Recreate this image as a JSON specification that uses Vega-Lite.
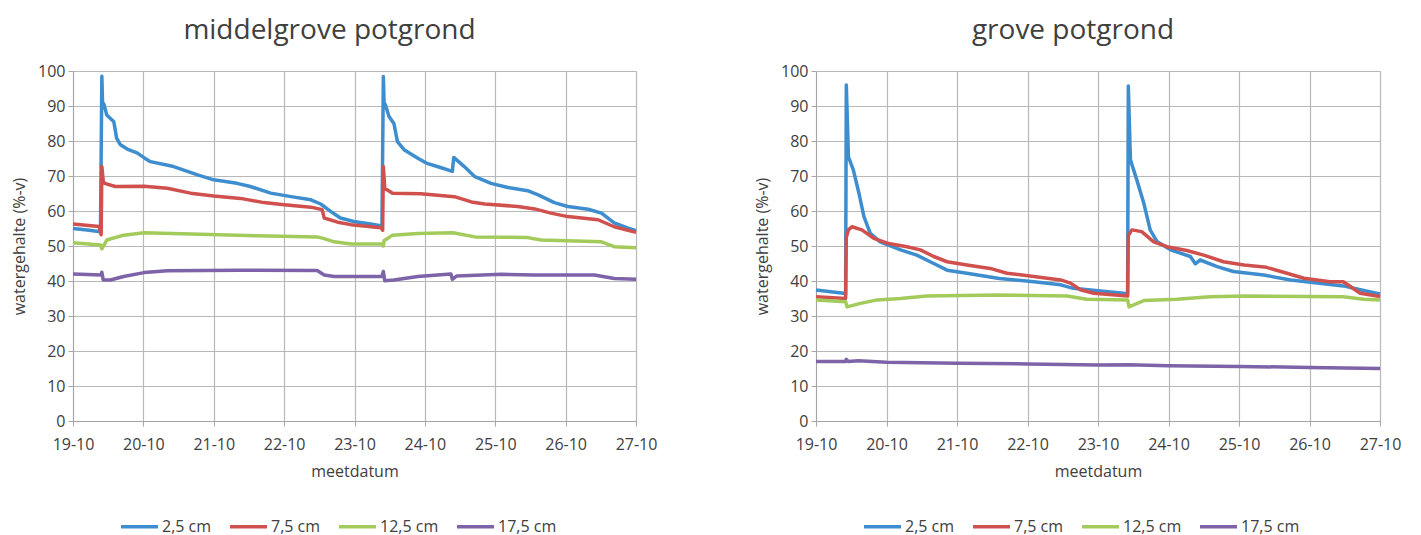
{
  "$schema": "https://vega.github.io/schema/vega-lite/v6.json",
  "padding": {"left": 11, "top": 17, "right": 0, "bottom": 45},
  "background": "white",
  "config": {
    "font": "Open Sans",
    "view": {"stroke": null},
    "axis": {
      "labelFontSize": 16, "labelColor": "#404040", "labelFont": "Open Sans",
      "titleFontSize": 16, "titleFontWeight": "normal", "titleColor": "#404040", "titleFont": "Open Sans",
      "gridColor": "#b8b8b8", "gridWidth": 1.2, "domainColor": "#a6a6a6", "tickColor": "#a6a6a6", "tickSize": 5
    },
    "legend": {
      "labelFontSize": 16, "labelColor": "#404040", "labelFont": "Open Sans"
    }
  },
  "data": {"values": [
    {"b":"m","s":"2,5 cm","t":0,"v":55.0},{"b":"m","s":"2,5 cm","t":0.2,"v":54.6},{"b":"m","s":"2,5 cm","t":0.39,"v":54.1},{"b":"m","s":"2,5 cm","t":0.41,"v":98.5},{"b":"m","s":"2,5 cm","t":0.42,"v":91},{"b":"m","s":"2,5 cm","t":0.44,"v":90.5},{"b":"m","s":"2,5 cm","t":0.48,"v":87.4},{"b":"m","s":"2,5 cm","t":0.58,"v":85.5},{"b":"m","s":"2,5 cm","t":0.62,"v":80.8},{"b":"m","s":"2,5 cm","t":0.67,"v":79},{"b":"m","s":"2,5 cm","t":0.77,"v":77.7},{"b":"m","s":"2,5 cm","t":0.91,"v":76.6},{"b":"m","s":"2,5 cm","t":1.02,"v":75.1},{"b":"m","s":"2,5 cm","t":1.1,"v":74.1},{"b":"m","s":"2,5 cm","t":1.43,"v":72.7},{"b":"m","s":"2,5 cm","t":1.77,"v":70.3},{"b":"m","s":"2,5 cm","t":2.0,"v":68.9},{"b":"m","s":"2,5 cm","t":2.33,"v":67.9},{"b":"m","s":"2,5 cm","t":2.52,"v":67.0},{"b":"m","s":"2,5 cm","t":2.81,"v":65.1},{"b":"m","s":"2,5 cm","t":3.1,"v":64.1},{"b":"m","s":"2,5 cm","t":3.38,"v":63.2},{"b":"m","s":"2,5 cm","t":3.52,"v":62.0},{"b":"m","s":"2,5 cm","t":3.66,"v":59.9},{"b":"m","s":"2,5 cm","t":3.8,"v":58.0},{"b":"m","s":"2,5 cm","t":3.99,"v":57.0},{"b":"m","s":"2,5 cm","t":4.23,"v":56.3},{"b":"m","s":"2,5 cm","t":4.39,"v":55.7},{"b":"m","s":"2,5 cm","t":4.41,"v":98.4},{"b":"m","s":"2,5 cm","t":4.42,"v":91},{"b":"m","s":"2,5 cm","t":4.44,"v":90.3},{"b":"m","s":"2,5 cm","t":4.49,"v":87.0},{"b":"m","s":"2,5 cm","t":4.56,"v":85.0},{"b":"m","s":"2,5 cm","t":4.61,"v":79.8},{"b":"m","s":"2,5 cm","t":4.71,"v":77.4},{"b":"m","s":"2,5 cm","t":4.9,"v":75.1},{"b":"m","s":"2,5 cm","t":5.02,"v":73.7},{"b":"m","s":"2,5 cm","t":5.21,"v":72.5},{"b":"m","s":"2,5 cm","t":5.39,"v":71.3},{"b":"m","s":"2,5 cm","t":5.41,"v":75.3},{"b":"m","s":"2,5 cm","t":5.56,"v":72.7},{"b":"m","s":"2,5 cm","t":5.71,"v":69.8},{"b":"m","s":"2,5 cm","t":5.94,"v":67.9},{"b":"m","s":"2,5 cm","t":6.18,"v":66.7},{"b":"m","s":"2,5 cm","t":6.46,"v":65.8},{"b":"m","s":"2,5 cm","t":6.61,"v":64.6},{"b":"m","s":"2,5 cm","t":6.84,"v":62.4},{"b":"m","s":"2,5 cm","t":7.03,"v":61.3},{"b":"m","s":"2,5 cm","t":7.32,"v":60.5},{"b":"m","s":"2,5 cm","t":7.51,"v":59.4},{"b":"m","s":"2,5 cm","t":7.69,"v":56.6},{"b":"m","s":"2,5 cm","t":7.88,"v":55.2},{"b":"m","s":"2,5 cm","t":8.0,"v":54.4},
    {"b":"m","s":"7,5 cm","t":0,"v":56.3},{"b":"m","s":"7,5 cm","t":0.37,"v":55.6},{"b":"m","s":"7,5 cm","t":0.40,"v":53.2},{"b":"m","s":"7,5 cm","t":0.41,"v":72.7},{"b":"m","s":"7,5 cm","t":0.43,"v":68.5},{"b":"m","s":"7,5 cm","t":0.45,"v":67.9},{"b":"m","s":"7,5 cm","t":0.6,"v":67.0},{"b":"m","s":"7,5 cm","t":1.01,"v":67.1},{"b":"m","s":"7,5 cm","t":1.34,"v":66.5},{"b":"m","s":"7,5 cm","t":1.67,"v":65.1},{"b":"m","s":"7,5 cm","t":2.0,"v":64.3},{"b":"m","s":"7,5 cm","t":2.38,"v":63.6},{"b":"m","s":"7,5 cm","t":2.71,"v":62.4},{"b":"m","s":"7,5 cm","t":3.0,"v":61.8},{"b":"m","s":"7,5 cm","t":3.38,"v":61.1},{"b":"m","s":"7,5 cm","t":3.54,"v":60.4},{"b":"m","s":"7,5 cm","t":3.57,"v":58.0},{"b":"m","s":"7,5 cm","t":3.76,"v":56.8},{"b":"m","s":"7,5 cm","t":3.95,"v":56.1},{"b":"m","s":"7,5 cm","t":4.38,"v":55.2},{"b":"m","s":"7,5 cm","t":4.40,"v":54.5},{"b":"m","s":"7,5 cm","t":4.41,"v":72.7},{"b":"m","s":"7,5 cm","t":4.43,"v":66.5},{"b":"m","s":"7,5 cm","t":4.54,"v":65.1},{"b":"m","s":"7,5 cm","t":4.94,"v":64.9},{"b":"m","s":"7,5 cm","t":5.42,"v":64.1},{"b":"m","s":"7,5 cm","t":5.66,"v":62.6},{"b":"m","s":"7,5 cm","t":5.85,"v":62.0},{"b":"m","s":"7,5 cm","t":6.32,"v":61.3},{"b":"m","s":"7,5 cm","t":6.56,"v":60.6},{"b":"m","s":"7,5 cm","t":6.79,"v":59.4},{"b":"m","s":"7,5 cm","t":7.03,"v":58.4},{"b":"m","s":"7,5 cm","t":7.46,"v":57.5},{"b":"m","s":"7,5 cm","t":7.69,"v":55.5},{"b":"m","s":"7,5 cm","t":8.0,"v":53.9},
    {"b":"m","s":"12,5 cm","t":0,"v":50.9},{"b":"m","s":"12,5 cm","t":0.39,"v":50.3},{"b":"m","s":"12,5 cm","t":0.41,"v":49.2},{"b":"m","s":"12,5 cm","t":0.48,"v":51.7},{"b":"m","s":"12,5 cm","t":0.72,"v":53.1},{"b":"m","s":"12,5 cm","t":1.01,"v":53.8},{"b":"m","s":"12,5 cm","t":1.67,"v":53.4},{"b":"m","s":"12,5 cm","t":2.62,"v":52.9},{"b":"m","s":"12,5 cm","t":3.47,"v":52.6},{"b":"m","s":"12,5 cm","t":3.57,"v":52.1},{"b":"m","s":"12,5 cm","t":3.71,"v":51.2},{"b":"m","s":"12,5 cm","t":3.95,"v":50.6},{"b":"m","s":"12,5 cm","t":4.39,"v":50.6},{"b":"m","s":"12,5 cm","t":4.41,"v":50.0},{"b":"m","s":"12,5 cm","t":4.42,"v":51.5},{"b":"m","s":"12,5 cm","t":4.54,"v":53.1},{"b":"m","s":"12,5 cm","t":4.9,"v":53.6},{"b":"m","s":"12,5 cm","t":5.4,"v":53.8},{"b":"m","s":"12,5 cm","t":5.71,"v":52.6},{"b":"m","s":"12,5 cm","t":6.46,"v":52.4},{"b":"m","s":"12,5 cm","t":6.65,"v":51.7},{"b":"m","s":"12,5 cm","t":7.51,"v":51.2},{"b":"m","s":"12,5 cm","t":7.69,"v":49.8},{"b":"m","s":"12,5 cm","t":8.0,"v":49.5},
    {"b":"m","s":"17,5 cm","t":0,"v":42.0},{"b":"m","s":"17,5 cm","t":0.40,"v":41.7},{"b":"m","s":"17,5 cm","t":0.41,"v":42.5},{"b":"m","s":"17,5 cm","t":0.43,"v":40.3},{"b":"m","s":"17,5 cm","t":0.53,"v":40.3},{"b":"m","s":"17,5 cm","t":0.72,"v":41.3},{"b":"m","s":"17,5 cm","t":1.01,"v":42.4},{"b":"m","s":"17,5 cm","t":1.34,"v":42.9},{"b":"m","s":"17,5 cm","t":2.38,"v":43.1},{"b":"m","s":"17,5 cm","t":3.47,"v":43.0},{"b":"m","s":"17,5 cm","t":3.57,"v":41.7},{"b":"m","s":"17,5 cm","t":3.71,"v":41.3},{"b":"m","s":"17,5 cm","t":4.39,"v":41.3},{"b":"m","s":"17,5 cm","t":4.41,"v":42.7},{"b":"m","s":"17,5 cm","t":4.43,"v":40.1},{"b":"m","s":"17,5 cm","t":4.56,"v":40.3},{"b":"m","s":"17,5 cm","t":4.9,"v":41.3},{"b":"m","s":"17,5 cm","t":5.37,"v":42.0},{"b":"m","s":"17,5 cm","t":5.39,"v":40.5},{"b":"m","s":"17,5 cm","t":5.45,"v":41.4},{"b":"m","s":"17,5 cm","t":6.09,"v":41.9},{"b":"m","s":"17,5 cm","t":6.56,"v":41.7},{"b":"m","s":"17,5 cm","t":7.41,"v":41.7},{"b":"m","s":"17,5 cm","t":7.69,"v":40.7},{"b":"m","s":"17,5 cm","t":8.0,"v":40.5},
    {"b":"g","s":"2,5 cm","t":0,"v":37.4},{"b":"g","s":"2,5 cm","t":0.39,"v":36.5},{"b":"g","s":"2,5 cm","t":0.42,"v":36.2},{"b":"g","s":"2,5 cm","t":0.43,"v":96.0},{"b":"g","s":"2,5 cm","t":0.46,"v":75.5},{"b":"g","s":"2,5 cm","t":0.53,"v":71.7},{"b":"g","s":"2,5 cm","t":0.61,"v":65.0},{"b":"g","s":"2,5 cm","t":0.68,"v":58.4},{"b":"g","s":"2,5 cm","t":0.77,"v":53.6},{"b":"g","s":"2,5 cm","t":0.91,"v":51.2},{"b":"g","s":"2,5 cm","t":1.2,"v":48.9},{"b":"g","s":"2,5 cm","t":1.43,"v":47.4},{"b":"g","s":"2,5 cm","t":1.67,"v":45.0},{"b":"g","s":"2,5 cm","t":1.86,"v":43.1},{"b":"g","s":"2,5 cm","t":2.14,"v":42.2},{"b":"g","s":"2,5 cm","t":2.6,"v":40.7},{"b":"g","s":"2,5 cm","t":3.09,"v":39.8},{"b":"g","s":"2,5 cm","t":3.47,"v":38.9},{"b":"g","s":"2,5 cm","t":3.65,"v":37.9},{"b":"g","s":"2,5 cm","t":4.0,"v":37.2},{"b":"g","s":"2,5 cm","t":4.36,"v":36.5},{"b":"g","s":"2,5 cm","t":4.42,"v":36.3},{"b":"g","s":"2,5 cm","t":4.43,"v":95.7},{"b":"g","s":"2,5 cm","t":4.46,"v":74.6},{"b":"g","s":"2,5 cm","t":4.55,"v":68.9},{"b":"g","s":"2,5 cm","t":4.65,"v":62.2},{"b":"g","s":"2,5 cm","t":4.74,"v":54.6},{"b":"g","s":"2,5 cm","t":4.84,"v":51.2},{"b":"g","s":"2,5 cm","t":5.03,"v":48.9},{"b":"g","s":"2,5 cm","t":5.31,"v":47.0},{"b":"g","s":"2,5 cm","t":5.38,"v":44.9},{"b":"g","s":"2,5 cm","t":5.45,"v":46.0},{"b":"g","s":"2,5 cm","t":5.69,"v":44.1},{"b":"g","s":"2,5 cm","t":5.92,"v":42.7},{"b":"g","s":"2,5 cm","t":6.35,"v":41.7},{"b":"g","s":"2,5 cm","t":6.73,"v":40.3},{"b":"g","s":"2,5 cm","t":7.11,"v":39.4},{"b":"g","s":"2,5 cm","t":7.48,"v":38.6},{"b":"g","s":"2,5 cm","t":7.72,"v":37.5},{"b":"g","s":"2,5 cm","t":8.0,"v":36.3},
    {"b":"g","s":"7,5 cm","t":0,"v":35.5},{"b":"g","s":"7,5 cm","t":0.42,"v":35.0},{"b":"g","s":"7,5 cm","t":0.43,"v":52.5},{"b":"g","s":"7,5 cm","t":0.46,"v":54.6},{"b":"g","s":"7,5 cm","t":0.51,"v":55.5},{"b":"g","s":"7,5 cm","t":0.65,"v":54.6},{"b":"g","s":"7,5 cm","t":0.82,"v":52.2},{"b":"g","s":"7,5 cm","t":1.01,"v":50.8},{"b":"g","s":"7,5 cm","t":1.29,"v":49.8},{"b":"g","s":"7,5 cm","t":1.48,"v":48.9},{"b":"g","s":"7,5 cm","t":1.67,"v":47.0},{"b":"g","s":"7,5 cm","t":1.86,"v":45.5},{"b":"g","s":"7,5 cm","t":2.14,"v":44.6},{"b":"g","s":"7,5 cm","t":2.47,"v":43.6},{"b":"g","s":"7,5 cm","t":2.71,"v":42.2},{"b":"g","s":"7,5 cm","t":3.09,"v":41.3},{"b":"g","s":"7,5 cm","t":3.47,"v":40.3},{"b":"g","s":"7,5 cm","t":3.61,"v":39.4},{"b":"g","s":"7,5 cm","t":3.75,"v":37.5},{"b":"g","s":"7,5 cm","t":3.94,"v":36.5},{"b":"g","s":"7,5 cm","t":4.42,"v":35.7},{"b":"g","s":"7,5 cm","t":4.43,"v":53.0},{"b":"g","s":"7,5 cm","t":4.48,"v":54.6},{"b":"g","s":"7,5 cm","t":4.62,"v":54.1},{"b":"g","s":"7,5 cm","t":4.79,"v":51.2},{"b":"g","s":"7,5 cm","t":4.98,"v":49.8},{"b":"g","s":"7,5 cm","t":5.26,"v":48.7},{"b":"g","s":"7,5 cm","t":5.5,"v":47.4},{"b":"g","s":"7,5 cm","t":5.78,"v":45.5},{"b":"g","s":"7,5 cm","t":6.07,"v":44.6},{"b":"g","s":"7,5 cm","t":6.39,"v":43.9},{"b":"g","s":"7,5 cm","t":6.68,"v":42.2},{"b":"g","s":"7,5 cm","t":6.92,"v":40.8},{"b":"g","s":"7,5 cm","t":7.29,"v":39.8},{"b":"g","s":"7,5 cm","t":7.48,"v":39.8},{"b":"g","s":"7,5 cm","t":7.72,"v":36.5},{"b":"g","s":"7,5 cm","t":8.0,"v":35.6},
    {"b":"g","s":"12,5 cm","t":0,"v":34.6},{"b":"g","s":"12,5 cm","t":0.42,"v":34.1},{"b":"g","s":"12,5 cm","t":0.44,"v":32.6},{"b":"g","s":"12,5 cm","t":0.63,"v":33.6},{"b":"g","s":"12,5 cm","t":0.87,"v":34.6},{"b":"g","s":"12,5 cm","t":1.2,"v":35.0},{"b":"g","s":"12,5 cm","t":1.57,"v":35.7},{"b":"g","s":"12,5 cm","t":2.6,"v":36.0},{"b":"g","s":"12,5 cm","t":3.56,"v":35.7},{"b":"g","s":"12,5 cm","t":3.84,"v":34.8},{"b":"g","s":"12,5 cm","t":4.42,"v":34.6},{"b":"g","s":"12,5 cm","t":4.44,"v":32.6},{"b":"g","s":"12,5 cm","t":4.65,"v":34.4},{"b":"g","s":"12,5 cm","t":5.12,"v":34.8},{"b":"g","s":"12,5 cm","t":5.59,"v":35.5},{"b":"g","s":"12,5 cm","t":6.07,"v":35.7},{"b":"g","s":"12,5 cm","t":7.48,"v":35.5},{"b":"g","s":"12,5 cm","t":7.77,"v":34.8},{"b":"g","s":"12,5 cm","t":8.0,"v":34.6},
    {"b":"g","s":"17,5 cm","t":0,"v":17.0},{"b":"g","s":"17,5 cm","t":0.42,"v":17.0},{"b":"g","s":"17,5 cm","t":0.43,"v":17.6},{"b":"g","s":"17,5 cm","t":0.46,"v":17.0},{"b":"g","s":"17,5 cm","t":0.6,"v":17.2},{"b":"g","s":"17,5 cm","t":1.0,"v":16.8},{"b":"g","s":"17,5 cm","t":2.0,"v":16.5},{"b":"g","s":"17,5 cm","t":3.0,"v":16.3},{"b":"g","s":"17,5 cm","t":4.0,"v":16.0},{"b":"g","s":"17,5 cm","t":4.43,"v":16.1},{"b":"g","s":"17,5 cm","t":5.0,"v":15.8},{"b":"g","s":"17,5 cm","t":6.0,"v":15.6},{"b":"g","s":"17,5 cm","t":7.0,"v":15.3},{"b":"g","s":"17,5 cm","t":8.0,"v":15.0}
  ]},
  "spacing": 180,
  "bounds": "flush",
  "resolve": {"scale": {"color": "independent"}, "legend": {"color": "independent"}},
  "hconcat": [
    {
      "title": {"text": "middelgrove potgrond", "fontSize": 28, "fontWeight": "normal", "color": "#404040", "font": "Open Sans", "dx": -25, "offset": 18, "anchor": "middle"},
      "width": 563, "height": 350,
      "transform": [{"filter": "datum.b === 'm'"}],
      "mark": {"type": "line", "strokeWidth": 3.5, "strokeJoin": "round", "interpolate": "linear"},
      "encoding": {
        "x": {"field": "t", "type": "quantitative", "title": "meetdatum", "scale": {"domain": [0, 8], "nice": false},
              "axis": {"values": [0,1,2,3,4,5,6,7,8], "labelExpr": "(19 + datum.value) + '-10'", "labelPadding": 10, "titlePadding": 11, "labelFlush": false}},
        "y": {"field": "v", "type": "quantitative", "title": "watergehalte (%-v)", "scale": {"domain": [0, 100], "nice": false},
              "axis": {"values": [0,10,20,30,40,50,60,70,80,90,100], "labelPadding": 3, "titlePadding": 10}},
        "color": {"field": "s", "type": "nominal", "sort": null,
                  "scale": {"domain": ["2,5 cm", "7,5 cm", "12,5 cm", "17,5 cm"], "range": ["#3E8ECF", "#D0504E", "#A3CB5B", "#7D63A8"]},
                  "legend": {"title": null, "orient": "none", "legendX": 46, "legendY": 435, "direction": "horizontal", "symbolType": "stroke", "symbolSize": 1369, "symbolStrokeWidth": 3.5, "columnPadding": 11, "labelOffset": 2, "padding": 0}}
      }
    },
    {
      "title": {"text": "grove potgrond", "fontSize": 28, "fontWeight": "normal", "color": "#404040", "font": "Open Sans", "dx": -25, "offset": 18, "anchor": "middle"},
      "width": 564, "height": 350,
      "transform": [{"filter": "datum.b === 'g'"}],
      "mark": {"type": "line", "strokeWidth": 3.5, "strokeJoin": "round", "interpolate": "linear"},
      "encoding": {
        "x": {"field": "t", "type": "quantitative", "title": "meetdatum", "scale": {"domain": [0, 8], "nice": false},
              "axis": {"values": [0,1,2,3,4,5,6,7,8], "labelExpr": "(19 + datum.value) + '-10'", "labelPadding": 10, "titlePadding": 11, "labelFlush": false}},
        "y": {"field": "v", "type": "quantitative", "title": "watergehalte (%-v)", "scale": {"domain": [0, 100], "nice": false},
              "axis": {"values": [0,10,20,30,40,50,60,70,80,90,100], "labelPadding": 3, "titlePadding": 10}},
        "color": {"field": "s", "type": "nominal", "sort": null,
                  "scale": {"domain": ["2,5 cm", "7,5 cm", "12,5 cm", "17,5 cm"], "range": ["#3E8ECF", "#D0504E", "#A3CB5B", "#7D63A8"]},
                  "legend": {"title": null, "orient": "none", "legendX": 46, "legendY": 435, "direction": "horizontal", "symbolType": "stroke", "symbolSize": 1369, "symbolStrokeWidth": 3.5, "columnPadding": 11, "labelOffset": 2, "padding": 0}}
      }
    }
  ]
}
